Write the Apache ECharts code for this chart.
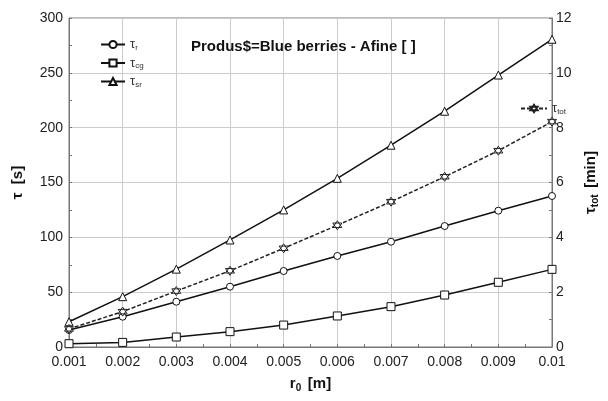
<!DOCTYPE html>
<html>
<head>
<meta charset="utf-8">
<title>Blue berries - Afine</title>
<script src="https://cdn.jsdelivr.net/npm/echarts@6/dist/echarts.min.js"></script>
<style>
  html, body { margin: 0; padding: 0; background: #fff; }
  #chart { width: 608px; height: 401px; }
</style>
</head>
<body>
<div id="chart"></div>
<script>
// raza r0 [m]
var radius = [0.001, 0.002, 0.003, 0.004, 0.005, 0.006, 0.007, 0.008, 0.009, 0.010];
// timpi [s] - axa stanga
var tauR  = [15.5, 27.6, 41.3, 55.0, 69.3, 83.0, 96.0, 110.3, 124.3, 137.7];
var tauCg = [3.0, 4.2, 9.1, 14.0, 20.0, 28.3, 36.8, 47.4, 59.0, 70.8];
var tauSr = [23.0, 45.9, 71.0, 97.6, 125.0, 153.8, 184.0, 215.0, 248.0, 280.6];
// timp total [min] - axa dreapta
var tauTot = [0.66, 1.29, 2.04, 2.78, 3.60, 4.44, 5.30, 6.21, 7.16, 8.22];

function pairs(ys) {
    return radius.map(function (x, i) { return [x, ys[i]]; });
}

var font = 'Liberation Sans, Arial, sans-serif';
var hexStar = 'path://M0,-10L8.66,5L-8.66,5Z M0,10L-8.66,-5L8.66,-5Z';

var subRich = {
    n: { fontSize: 13, fontFamily: font, color: '#333', height: 14 },
    s: { fontSize: 8, fontFamily: font, color: '#333', padding: [6, 0, 0, 0], height: 14 }
};

var chart = echarts.init(document.getElementById('chart'), null, { renderer: 'canvas' });

chart.setOption({
    animation: false,
    textStyle: { fontFamily: font },
    title: {
        text: 'Produs$=Blue berries - Afine [ ]',
        left: 186,
        top: 34,
        textStyle: { fontSize: 15, fontWeight: 'bold', color: '#111', fontFamily: font }
    },
    legend: [
        {
            left: 95,
            top: 33,
            orient: 'vertical',
            itemWidth: 24,
            itemHeight: 9,
            itemGap: 5,
            data: ['τr', 'τcg', 'τsr'],
            formatter: function (name) { return '{n|τ}{s|' + name.slice(1) + '}'; },
            textStyle: { rich: subRich, color: '#333' }
        },
        {
            left: 515,
            top: 97,
            itemWidth: 26,
            itemHeight: 9,
            itemGap: 2,
            data: ['τtot'],
            formatter: function (name) { return '{n|τ}{s|tot}'; },
            textStyle: { rich: subRich, color: '#333' }
        }
    ],
    grid: {
        left: 69,
        right: 44,
        top: 18,
        bottom: 54,
        show: true,
        borderColor: '#777',
        borderWidth: 1
    },
    xAxis: {
        type: 'value',
        min: 0.001,
        max: 0.01,
        interval: 0.001,
        name: '{b|r}{bs|0}  {b|[m]}',
        nameLocation: 'middle',
        nameGap: 28,
        nameTextStyle: {
            rich: {
                b: { fontSize: 15, fontWeight: 'bold', color: '#111', fontFamily: font },
                bs: { fontSize: 10, fontWeight: 'bold', color: '#111', fontFamily: font, padding: [8, 0, 0, 0] }
            }
        },
        axisLine: { show: true, lineStyle: { color: '#777' } },
        axisTick: { show: true, inside: true, length: 3, lineStyle: { color: '#777' } },
        minorTick: { show: true, splitNumber: 2, length: 3, lineStyle: { color: '#777' } },
        axisLabel: {
            fontSize: 14,
            color: '#222',
            margin: 8,
            formatter: function (v) { return String(+v.toFixed(3)); }
        },
        splitLine: { show: true, lineStyle: { color: '#cccccc', width: 1 } }
    },
    yAxis: [
        {
            type: 'value',
            min: 0,
            max: 300,
            interval: 50,
            name: '{b|τ  [s]}',
            nameLocation: 'middle',
            nameRotate: 90,
            nameGap: 44,
            nameTextStyle: {
                rich: { b: { fontSize: 15, fontWeight: 'bold', color: '#111', fontFamily: font } }
            },
            axisLine: { show: true, lineStyle: { color: '#777' } },
            axisTick: { show: true, inside: true, length: 3, lineStyle: { color: '#777' } },
            minorTick: { show: true, splitNumber: 2, length: 3, lineStyle: { color: '#777' } },
            axisLabel: { fontSize: 14, color: '#222', margin: 6 },
            splitLine: { show: true, lineStyle: { color: '#cccccc', width: 1 } }
        },
        {
            type: 'value',
            min: 0,
            max: 12,
            interval: 2,
            position: 'right',
            name: '{b|τ}{bs|tot}  {b|[min]}',
            nameLocation: 'middle',
            nameRotate: 90,
            nameGap: 30,
            nameTextStyle: {
                rich: {
                    b: { fontSize: 15, fontWeight: 'bold', color: '#111', fontFamily: font },
                    bs: { fontSize: 10, fontWeight: 'bold', color: '#111', fontFamily: font, padding: [8, 0, 0, 0] }
                }
            },
            axisLine: { show: true, lineStyle: { color: '#777' } },
            axisTick: { show: true, inside: true, length: 3, lineStyle: { color: '#777' } },
            minorTick: { show: true, splitNumber: 2, length: 3, lineStyle: { color: '#777' } },
            axisLabel: { fontSize: 14, color: '#222', margin: 4 },
            splitLine: { show: false }
        }
    ],
    series: [
        {
            name: 'τr',
            type: 'line',
            yAxisIndex: 0,
            data: pairs(tauR),
            symbol: 'circle',
            symbolSize: 7,
            lineStyle: { color: '#111', width: 1.5 },
            itemStyle: { color: '#fff', borderColor: '#111', borderWidth: 1 }
        },
        {
            name: 'τcg',
            type: 'line',
            yAxisIndex: 0,
            data: pairs(tauCg),
            symbol: 'rect',
            symbolSize: 8,
            lineStyle: { color: '#111', width: 1.5 },
            itemStyle: { color: '#fff', borderColor: '#111', borderWidth: 1 }
        },
        {
            name: 'τsr',
            type: 'line',
            yAxisIndex: 0,
            data: pairs(tauSr),
            symbol: 'triangle',
            symbolSize: 8,
            lineStyle: { color: '#111', width: 1.5 },
            itemStyle: { color: '#fff', borderColor: '#111', borderWidth: 1 }
        },
        {
            name: 'τtot',
            type: 'line',
            yAxisIndex: 1,
            data: pairs(tauTot),
            symbol: hexStar,
            symbolSize: 9,
            lineStyle: { color: '#222', width: 1.5, type: [4, 2] },
            itemStyle: { color: '#fff', borderColor: '#222', borderWidth: 1 }
        }
    ]
});
</script>
</body>
</html>
